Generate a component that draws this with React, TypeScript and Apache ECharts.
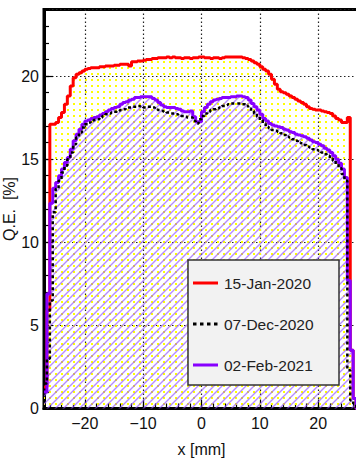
import React, { useEffect, useRef } from 'react';
import * as echarts from 'echarts';

// Histogram binning (bin left edges start at BIN_START, width BIN_WIDTH mm)
const BIN_START = -27;
const BIN_WIDTH = 0.5;

const X_MIN = -27;
const X_MAX = 27;
const Y_MIN = 0;
const Y_MAX = 24;

const SERIES_NAMES = ['15-Jan-2020', '07-Dec-2020', '02-Feb-2021'];

// Q.E. [%] per 0.5 mm bin
const QE_15JAN2020 = [
  1.3, 5.9, 17.1, 17.1, 17.2, 17.5, 17.8, 18.3, 18.8, 19.4,
  19.9, 20.1, 20.2, 20.3, 20.4, 20.45, 20.5, 20.5, 20.5, 20.55,
  20.55, 20.6, 20.6, 20.6, 20.65, 20.65, 20.7, 20.7, 20.7, 20.6,
  20.85, 20.85, 20.9, 20.9, 20.95, 21.0, 21.0, 21.05, 21.05, 21.1,
  21.1, 21.1, 21.15, 21.1, 21.15, 21.1, 21.1, 21.05, 21.1, 21.1,
  21.05, 21.1, 21.1, 21.15, 21.15, 21.1, 21.1, 21.05, 21.1, 21.1,
  21.05, 21.1, 21.15, 21.15, 21.15, 21.15, 21.15, 21.15, 21.1, 21.05,
  21.0, 20.9, 20.8, 20.7, 20.55, 20.4, 20.3, 20.1, 19.8, 19.5,
  19.2, 19.05, 19.0, 18.9, 18.8, 18.7, 18.6, 18.5, 18.4, 18.3,
  18.15, 18.05, 18.0, 17.95, 17.95, 17.9, 17.85, 17.8, 17.75, 17.6,
  17.45, 17.35, 17.2, 17.2, 17.5, 3.5, 0.6, 0,
];

const QE_07DEC2020 = [
  1.5, 3.0, 6.5, 11.8, 13.2, 13.7, 14.2, 14.6, 15.0, 15.4,
  15.9, 16.3, 16.6, 16.9, 17.1, 17.2, 17.3, 17.35, 17.4, 17.5,
  17.6, 17.7, 17.75, 17.8, 17.85, 17.9, 17.95, 18.0, 18.1, 18.1,
  18.15, 18.15, 18.2, 18.15, 18.1, 18.15, 18.15, 18.1, 18.0, 17.95,
  17.9, 17.85, 17.8, 17.75, 17.75, 17.7, 17.65, 17.6, 17.55, 17.5,
  17.5, 17.3, 17.15, 17.4, 17.6, 17.75, 17.85, 17.95, 18.0, 18.05,
  18.1, 18.2, 18.25, 18.3, 18.35, 18.35, 18.35, 18.35, 18.3, 18.2,
  18.05, 17.9, 17.75, 17.55, 17.35, 17.15, 16.95, 16.85, 16.75, 16.7,
  16.65, 16.55, 16.45, 16.35, 16.3, 16.2, 16.1, 16.0, 15.95, 15.85,
  15.75, 15.7, 15.6, 15.55, 15.5, 15.4, 15.3, 15.2, 15.05, 14.9,
  14.7, 14.45, 14.1, 13.7, 2.3, 0.5, 0.3, 0,
];

const QE_02FEB2021 = [
  1.0, 6.9, 12.35, 13.25, 13.6, 14.0, 14.4, 14.8, 15.1, 15.6,
  16.1, 16.5, 16.8, 17.1, 17.3, 17.35, 17.45, 17.5, 17.55, 17.65,
  17.75, 17.85, 17.95, 18.05, 18.1, 18.15, 18.3, 18.4, 18.45, 18.55,
  18.6, 18.7, 18.7, 18.75, 18.75, 18.75, 18.75, 18.65, 18.55, 18.4,
  18.25, 18.15, 18.1, 18.1, 18.1, 18.05, 18.0, 17.9, 17.85, 17.85,
  17.9, 17.55, 17.25, 17.25, 17.85, 18.1, 18.3, 18.45, 18.55, 18.6,
  18.65, 18.7, 18.7, 18.7, 18.75, 18.75, 18.8, 18.8, 18.75, 18.7,
  18.55, 18.35, 18.15, 17.95, 17.7, 17.45, 17.3, 17.15, 17.05, 17.0,
  16.95, 16.9, 16.8, 16.75, 16.65, 16.6, 16.5, 16.45, 16.4, 16.35,
  16.25, 16.15, 16.05, 16.0, 15.9, 15.8, 15.65, 15.55, 15.4, 15.2,
  15.0, 14.75, 14.4, 13.9, 7.7, 3.5, 0.6, 0,
];

// minor tick positions on the x axis (every 2 mm)
const MINOR_X_TICKS = [
  '-26', '-24', '-22', '-20', '-18', '-16', '-14', '-12', '-10', '-8', '-6', '-4', '-2',
  '0', '2', '4', '6', '8', '10', '12', '14', '16', '18', '20', '22', '24', '26',
];

const FONT = '"Liberation Sans", Arial, Helvetica, sans-serif';

function toSteps(values: number[]): number[][] {
  const pts = values.map((v, i) => [BIN_START + i * BIN_WIDTH, v]);
  pts.push([BIN_START + values.length * BIN_WIDTH, values[values.length - 1]]);
  return pts;
}

function makeTile(size: number, draw: (ctx: CanvasRenderingContext2D) => void): string {
  const c = document.createElement('canvas');
  c.width = size;
  c.height = size;
  const ctx = c.getContext('2d') as CanvasRenderingContext2D;
  draw(ctx);
  return c.toDataURL();
}

export default function App() {
  const ref = useRef<HTMLDivElement>(null);

  useEffect(() => {
    if (!ref.current) return;
    const chart = echarts.init(ref.current, undefined, { renderer: 'svg' });

    const dotSize = 6;
    const dotUrl = makeTile(dotSize, (ctx) => {
      ctx.fillStyle = '#ffff00';
      ctx.fillRect(1, 1, 2, 2);
    });
    const hatchSize = 8;
    const hatchUrl = makeTile(hatchSize, (ctx) => {
      ctx.strokeStyle = 'rgba(145, 80, 255, 0.65)';
      ctx.lineWidth = 1.4;
      ctx.beginPath();
      ctx.moveTo(-1, hatchSize + 1);
      ctx.lineTo(hatchSize + 1, -1);
      ctx.moveTo(-1, 1);
      ctx.lineTo(1, -1);
      ctx.moveTo(hatchSize - 1, hatchSize + 1);
      ctx.lineTo(hatchSize + 1, hatchSize - 1);
      ctx.stroke();
    });
    const dotPattern: any = { image: dotUrl, repeat: 'repeat', imageWidth: dotSize, imageHeight: dotSize };
    const hatchPattern: any = { image: hatchUrl, repeat: 'repeat', imageWidth: hatchSize, imageHeight: hatchSize };

    const labelStyle = { fontSize: 16, color: '#111', fontFamily: FONT };
    const splitLine = { show: true, lineStyle: { color: '#222', type: [1.5, 2.5] as any, width: 1.2 } };
    const tickLine = { color: '#000', width: 1.2 };

    const legendTop = 260;
    const legendLeft = 188;
    const rowY = [283, 324, 365];
    const legendColors = ['#ff0000', '#000000', '#8800ff'];
    const legendDash: any[] = [null, [3.5, 3.5], null];

    const graphic: any[] = [
      {
        type: 'rect',
        z: 100,
        shape: { x: legendLeft, y: legendTop, width: 151, height: 125 },
        style: { fill: '#f2f2f2', stroke: '#333', lineWidth: 1.5 },
      },
    ];
    SERIES_NAMES.forEach((name, i) => {
      graphic.push({
        type: 'line',
        z: 101,
        shape: { x1: 193, y1: rowY[i], x2: 218, y2: rowY[i] },
        style: { stroke: legendColors[i], lineWidth: 3, lineDash: legendDash[i] },
      });
      graphic.push({
        type: 'text',
        z: 101,
        x: 224,
        y: rowY[i],
        style: {
          text: name,
          fontSize: 15.5,
          fontFamily: FONT,
          fill: '#222',
          verticalAlign: 'middle',
          align: 'left',
        },
      });
    });

    const option: any = {
      animation: false,
      textStyle: { fontFamily: FONT },
      grid: {
        left: 44,
        top: 9.5,
        width: 315,
        height: 399,
        show: true,
        borderColor: '#000',
        borderWidth: 3,
        backgroundColor: 'transparent',
        outerBoundsMode: 'none',
        containLabel: false,
      },
      xAxis: [
        {
          type: 'value',
          min: X_MIN,
          max: X_MAX,
          position: 'bottom',
          axisLine: { show: true, onZero: false, lineStyle: { color: '#000', width: 3 } },
          axisTick: { show: true, inside: true, length: 9, lineStyle: tickLine },
          axisLabel: {
            ...labelStyle,
            margin: 7,
            showMinLabel: false,
            showMaxLabel: false,
            formatter: (v: number) => (v < 0 ? '\u2212' + Math.abs(v) : String(v)),
          },
          splitLine,
          name: 'x [mm]',
          nameLocation: 'middle',
          nameGap: 33,
          nameMoveOverlap: false,
          nameTextStyle: { ...labelStyle },
        },
        {
          type: 'category',
          data: MINOR_X_TICKS,
          boundaryGap: true,
          position: 'bottom',
          axisLine: { show: false, onZero: false },
          axisTick: { show: true, inside: true, alignWithLabel: true, interval: 0, length: 5, lineStyle: tickLine },
          axisLabel: { show: false },
          splitLine: { show: false },
        },
      ],
      yAxis: [
        {
          type: 'value',
          min: Y_MIN,
          max: Y_MAX,
          interval: 5,
          position: 'left',
          axisLine: { show: true, onZero: false, lineStyle: { color: '#000', width: 3 } },
          axisTick: { show: true, inside: true, length: 9, lineStyle: tickLine },
          axisLabel: { ...labelStyle, margin: 5, showMaxLabel: false },
          splitLine,
          name: 'Q.E.  [%]',
          nameLocation: 'middle',
          nameGap: 27,
          nameMoveOverlap: false,
          nameTextStyle: { ...labelStyle },
        },
        {
          type: 'value',
          min: Y_MIN,
          max: Y_MAX,
          interval: 1,
          position: 'left',
          axisLine: { show: false, onZero: false },
          axisTick: { show: true, inside: true, length: 5, lineStyle: tickLine },
          axisLabel: { show: false },
          splitLine: { show: false },
        },
      ],
      series: [
        {
          name: SERIES_NAMES[0],
          type: 'line',
          step: 'end',
          xAxisIndex: 0,
          yAxisIndex: 0,
          data: toSteps(QE_15JAN2020),
          symbol: 'none',
          lineStyle: { color: '#ff0000', width: 3 },
          areaStyle: { color: dotPattern, opacity: 1 },
          z: 2,
        },
        {
          name: SERIES_NAMES[2],
          type: 'line',
          step: 'end',
          xAxisIndex: 0,
          yAxisIndex: 0,
          data: toSteps(QE_02FEB2021),
          symbol: 'none',
          lineStyle: { color: '#8800ff', width: 3 },
          areaStyle: { color: hatchPattern, opacity: 1 },
          z: 3,
        },
        {
          name: SERIES_NAMES[1],
          type: 'line',
          step: 'end',
          xAxisIndex: 0,
          yAxisIndex: 0,
          data: toSteps(QE_07DEC2020),
          symbol: 'none',
          lineStyle: { color: '#000000', width: 2.5, type: [3, 3] },
          z: 4,
        },
      ],
      graphic,
    };

    chart.setOption(option);
    return () => {
      chart.dispose();
    };
  }, []);

  return (
    <div
      ref={ref}
      style={{ position: 'fixed', left: 0, top: 0, width: 356, height: 462, background: '#fff' }}
    />
  );
}
